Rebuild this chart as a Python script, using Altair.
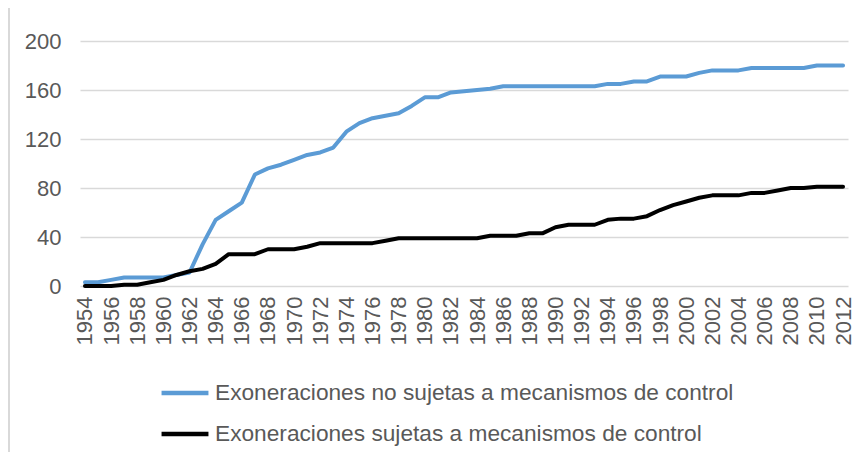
import altair as alt
import pandas as pd

years = list(range(1954, 2013))
no_sujetas = [3, 3, 5, 7, 7, 7, 7, 9, 11, 34,
              54, 61, 68, 91, 96, 99, 103, 107, 109, 113,
              126, 133, 137, 139, 141, 147, 154, 154, 158, 159,
              160, 161, 163, 163, 163, 163, 163, 163, 163, 163,
              165, 165, 167, 167, 171, 171, 171, 174, 176, 176,
              176, 178, 178, 178, 178, 178, 180, 180, 180]
sujetas = [0, 0, 0, 1, 1, 3, 5, 9, 12, 14,
           18, 26, 26, 26, 30, 30, 30, 32, 35, 35,
           35, 35, 35, 37, 39, 39, 39, 39, 39, 39,
           39, 41, 41, 41, 43, 43, 48, 50, 50, 50,
           54, 55, 55, 57, 62, 66, 69, 72, 74, 74,
           74, 76, 76, 78, 80, 80, 81, 81, 81]
series_names = ["Exoneraciones no sujetas a mecanismos de control",
                "Exoneraciones sujetas a mecanismos de control"]
series_colors = ["#5B9BD5", "#000000"]
x_ticks = list(range(1954, 2013, 2))
y_ticks = [0, 40, 80, 120, 160, 200]

rows = []
for i, y in enumerate(years):
    rows.append({"year": y, "value": no_sujetas[i], "serie": series_names[0]})
    rows.append({"year": y, "value": sujetas[i], "serie": series_names[1]})
df = pd.DataFrame(rows)

font = "Liberation Sans"
gray = "#595959"

lines = alt.Chart(df).mark_line(strokeWidth=4, strokeCap="round", strokeJoin="round").encode(
    x=alt.X("year:Q",
            scale=alt.Scale(domain=[1953.62, 2012.38], nice=False, zero=False),
            axis=alt.Axis(values=x_ticks, format="d", labelAngle=-90, ticks=False,
                          domain=False, grid=False, labelPadding=10,
                          labelFontSize=22, labelColor=gray, labelFont=font,
                          title=None, labelOverlap=False)),
    y=alt.Y("value:Q",
            scale=alt.Scale(domain=[0, 200], nice=False),
            axis=alt.Axis(values=y_ticks, ticks=False, domain=False, grid=True,
                          gridColor="#d9d9d9", gridWidth=1.5, labelPadding=19,
                          labelFontSize=22, labelColor=gray, labelFont=font,
                          title=None)),
    color=alt.Color("serie:N",
                    scale=alt.Scale(domain=series_names, range=series_colors),
                    sort=series_names,
                    legend=alt.Legend(title=None, orient="none", legendX=79, legendY=326,
                                      direction="vertical", symbolType="stroke",
                                      symbolSize=2200, symbolStrokeWidth=4.5,
                                      labelFontSize=22.7, labelColor=gray, labelFont=font,
                                      labelOffset=4, rowPadding=3, padding=0,
                                      labelLimit=800)),
)

border = alt.Chart(pd.DataFrame({"a": [0]})).mark_rule(color="#d9d9d9", strokeWidth=2).encode(
    x=alt.value(-71), y=alt.value(-41), y2=alt.value(420)
)

chart = alt.layer(border, lines).properties(
    width=768, height=245,
    autosize=alt.AutoSizeParams(type="none"),
    padding={"left": 72, "top": 33, "right": 9, "bottom": 166},
).configure_view(stroke=None)

chart.save("out.html", embed_options={"renderer": "svg", "actions": False})
